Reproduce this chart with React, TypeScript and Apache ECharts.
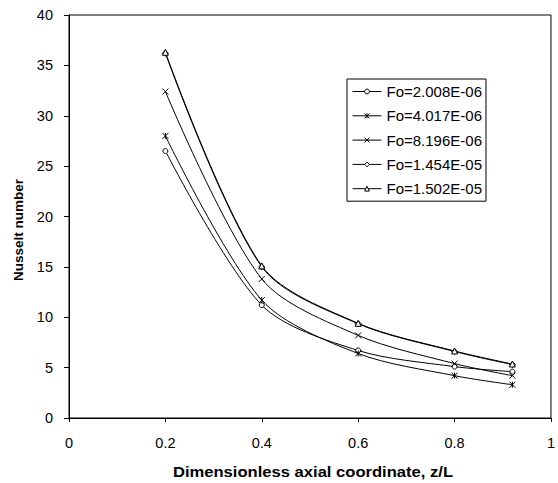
import React, { useEffect, useRef } from "react";
import * as echarts from "echarts";

const xValues = [0.2, 0.4, 0.6, 0.8, 0.92];
const seriesNames = ["Fo=2.008E-06", "Fo=4.017E-06", "Fo=8.196E-06", "Fo=1.454E-05", "Fo=1.502E-05"];
const fo2008 = [26.5, 11.2, 6.7, 5.1, 4.6];
const fo4017 = [28.0, 11.7, 6.4, 4.2, 3.3];
const fo8196 = [32.4, 13.8, 8.2, 5.4, 4.2];
const fo1454 = [36.2, 15.0, 9.35, 6.6, 5.3];
const fo1502 = [36.3, 15.1, 9.4, 6.65, 5.36];
const seriesValues = [fo2008, fo4017, fo8196, fo1454, fo1502];

const XSYM = "path://M0 0L10 10M10 0L0 10";
const STARSYM = "path://M0 0L10 10M10 0L0 10M5 0L5 10";
const symbols = ["circle", STARSYM, XSYM, "diamond", "triangle"];
const symbolSizes = [5, 6, 6, 6, 6];

const FONT = "Liberation Sans, Arial, sans-serif";

export default function App() {
  const ref = useRef<HTMLDivElement>(null);
  useEffect(() => {
    const chart = echarts.init(ref.current!, null, { renderer: "svg" });
    const styleFor = (i: number) =>
      String(symbols[i]).startsWith("path://")
        ? { color: "rgba(0,0,0,0)", borderColor: "#000", borderWidth: 1 }
        : { color: "#fff", borderColor: "#000", borderWidth: 1 };
    const series = seriesNames.map((name, i) => ({
      name,
      type: "line",
      smooth: 0.3,
      data: xValues.map((x, j) => [x, seriesValues[i][j]]),
      symbol: symbols[i],
      symbolSize: symbolSizes[i],
      showAllSymbol: true,
      lineStyle: { color: "#000", width: 1 },
      itemStyle: styleFor(i),
    }));
    chart.setOption({
      animation: false,
      backgroundColor: "#fff",
      textStyle: { fontFamily: FONT },
      grid: {
        left: 69,
        top: 15,
        right: 1,
        bottom: 65,
        show: true,
        borderColor: "#000",
        borderWidth: 1,
        containLabel: false,
      },
      xAxis: {
        type: "value",
        min: 0,
        max: 1,
        interval: 0.2,
        axisLine: { lineStyle: { color: "#000", width: 1 } },
        axisTick: { show: true, length: 4, lineStyle: { color: "#000" } },
        splitLine: { show: false },
        axisLabel: {
          color: "#000",
          fontSize: 14.5,
          fontFamily: FONT,
          margin: 17,
          formatter: (v: number) => String(Math.round(v * 10) / 10),
        },
      },
      yAxis: {
        type: "value",
        min: 0,
        max: 40,
        interval: 5,
        axisLine: { show: true, lineStyle: { color: "#000", width: 1 } },
        axisTick: { show: true, length: 5, lineStyle: { color: "#000" } },
        splitLine: { show: false },
        axisLabel: { color: "#000", fontSize: 14.5, fontFamily: FONT, margin: 16 },
      },
      legend: {
        orient: "vertical",
        left: 347,
        top: 79,
        backgroundColor: "#fff",
        borderColor: "#000",
        borderWidth: 1,
        padding: [5, 4, 5, 5],
        itemGap: 9.3,
        itemWidth: 29,
        itemHeight: 6,
        lineStyle: { width: 1, color: "#000" },
        textStyle: { color: "#000", fontSize: 15, fontFamily: FONT },
        data: seriesNames.map((name, i) => ({ name, itemStyle: styleFor(i) })),
      },
      graphic: [
        {
          type: "text",
          x: 313,
          y: 471,
          scaleX: 1.07,
          style: {
            text: "Dimensionless axial coordinate, z/L",
            fill: "#000",
            font: "bold 15.5px " + FONT,
            align: "center",
            verticalAlign: "middle",
          },
        },
        {
          type: "text",
          rotation: Math.PI / 2,
          x: 18,
          y: 230,
          style: {
            text: "Nusselt number",
            fill: "#000",
            font: "bold 13.5px " + FONT,
            align: "center",
            verticalAlign: "middle",
          },
        },
      ],
      series,
    });
    return () => chart.dispose();
  }, []);
  return <div ref={ref} style={{ width: 558, height: 483, position: "absolute", left: 0, top: 0 }} />;
}
